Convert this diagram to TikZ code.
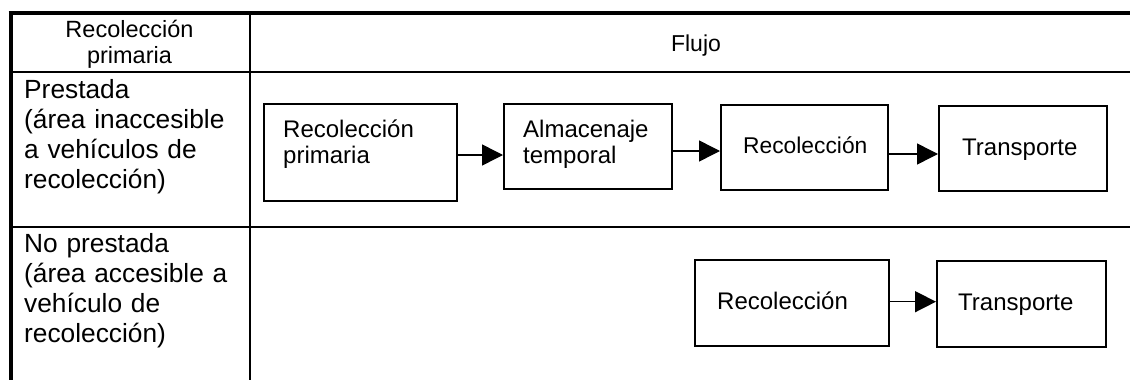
\documentclass[tikz,border=0pt]{standalone}
\usepackage{fontspec}
\setmainfont{Liberation Sans}
\usetikzlibrary{arrows.meta}

\tikzset{
  rule/.style={line width=2pt},
  thinrule/.style={line width=1.3pt},
  flowbox/.style={draw, line width=2pt, rectangle, inner sep=0pt},
  boxtext/.style={anchor=base west, inner sep=0pt, align=left, text width=170pt,
    font=\fontsize{24pt}{26.5pt}\selectfont},
  sidetext/.style={anchor=base west, inner sep=0pt, align=left, text width=220pt,
    font=\fontsize{26.3pt}{30pt}\selectfont},
  headtext/.style={anchor=base, inner sep=0pt, align=center, text width=220pt,
    font=\fontsize{23.5pt}{26pt}\selectfont},
  flowarrow/.style={line width=1.5pt, -{Triangle[length=21pt,width=21pt]}}
}

\begin{document}
\begin{tikzpicture}[x=1pt, y=-1pt]
  \useasboundingbox[fill=white] (0,0) rectangle (1130,380);

  % table frame
  \coordinate (tl) at (8.5,13);
  \coordinate (tr) at (1130,13);
  \coordinate (lt) at (10.5,11);
  \coordinate (bl) at (10.5,380);
  \coordinate (ct) at (250,13);
  \coordinate (cb) at (250,380);
  \coordinate (hl) at (9,71.5);
  \coordinate (hr) at (1130,71.5);
  \coordinate (rl) at (9,227);
  \coordinate (rr) at (1130,227);
  \draw[line width=3.5pt] (tl) -- (tr);
  \draw[line width=4pt] (lt) -- (bl);
  \draw[rule] (hl) -- (hr);
  \draw[rule] (rl) -- (rr);
  \draw[thinrule] (ct) -- (cb);

  % header
  \node[headtext] (h1) at (129.5,37) {Recolección\\primaria};
  \node[headtext, font=\fontsize{23pt}{26pt}\selectfont] (h2) at (696,51.7) {Flujo};

  % row labels
  \node[sidetext] (r1) at (24,98.3) {Prestada\\(área inaccesible\\a vehículos de\\recolección)};
  \node[sidetext] (r2) at (24,252.7) {No prestada\\(área accesible a\\vehículo de\\recolección)};

  % first row: boxes
  \node[flowbox, minimum width=193pt, minimum height=97pt] (b1) at (360.5,152.5) {};
  \node[flowbox, minimum width=168pt, minimum height=85pt] (b2) at (588,146.5) {};
  \node[flowbox, minimum width=167pt, minimum height=85pt] (b3) at (804.5,147.5) {};
  \node[flowbox, minimum width=168pt, minimum height=85pt] (b4) at (1023,148.2) {};
  \node[boxtext] (t1) at (283,137) {Recolección\\primaria};
  \node[boxtext] (t2) at (523,137) {Almacenaje\\temporal};
  \node[boxtext, font=\fontsize{22.8pt}{26pt}\selectfont] (t3) at (743,153) {Recolección};
  \node[boxtext] (t4) at (962,155) {Transporte};

  % first row: arrows
  \coordinate (a1) at ([yshift=-2.5pt]b1.east);
  \coordinate (a2) at ([yshift=-4.5pt]b2.east);
  \coordinate (a3) at ([yshift=-6.5pt]b3.east);
  \draw[flowarrow] (a1) -- (a1 -| b2.west);
  \draw[flowarrow] (a2) -- (a2 -| b3.west);
  \draw[flowarrow] (a3) -- (a3 -| b4.west);

  % second row
  \node[flowbox, minimum width=194pt, minimum height=86pt] (b5) at (792,303) {};
  \node[flowbox, minimum width=169pt, minimum height=86pt] (b6) at (1021.5,304) {};
  \node[boxtext] (t5) at (717,309) {Recolección};
  \node[boxtext] (t6) at (958,310) {Transporte};
  \coordinate (a4) at ([yshift=1.3pt]b5.east);
  \draw[flowarrow] (a4) -- (a4 -| b6.west);
\end{tikzpicture}
\end{document}
